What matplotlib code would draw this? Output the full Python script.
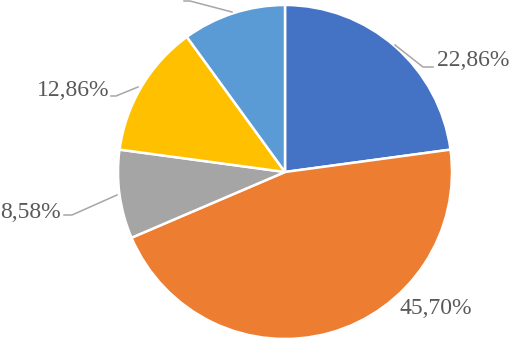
import matplotlib.pyplot as plt

# slice values (percent), clockwise from 12 o'clock
values = [22.86, 45.70, 8.58, 12.86, 10.00]
labels = ['22,86%', '45,70%', '8,58%', '12,86%', '10,00%']
colors = ['#4472C4', '#ED7D31', '#A5A5A5', '#FFC000', '#5B9BD5']

W, H = 512, 341
cx, cy, r = 285, 172, 167


def to_data(px, py):
    return (px - cx) / r, (cy - py) / r


fig = plt.figure(figsize=(W / 100, H / 100), dpi=100)
ax = fig.add_axes([(cx - r) / W, (H - cy - r) / H, 2 * r / W, 2 * r / H])
ax.pie(values, colors=colors, startangle=90, counterclock=False, radius=1,
       wedgeprops=dict(edgecolor='white', linewidth=1.8))
ax.set_xlim(-1, 1)
ax.set_ylim(-1, 1)
ax.set_aspect('auto')
ax.axis('off')

# label text anchor (px), leader polyline (px)
label_pos = [(437, 61, 'left'), (399, 308, 'left'), (61, 212, 'right'),
             (109, 90, 'right'), (186, -22, 'right')]
leaders = [
    [(395, 45), (423, 67), (433, 67)],
    None,
    [(117, 195), (72, 215), (64, 215)],
    [(138, 87), (116, 96), (111, 96)],
    [(232, 12), (190, 1), (184, 1)],
]

for lab, (px, py, ha), pts in zip(labels, label_pos, leaders):
    x, y = to_data(px, py)
    ax.text(x, y, lab, ha=ha, va='center', fontsize=17,
            family='Liberation Serif', color='#595959', clip_on=False)
    if pts:
        xs, ys = zip(*[to_data(p, q) for p, q in pts])
        ax.plot(xs, ys, color='#A6A6A6', linewidth=1.1, clip_on=False)

fig.savefig('out.png', dpi=100)
